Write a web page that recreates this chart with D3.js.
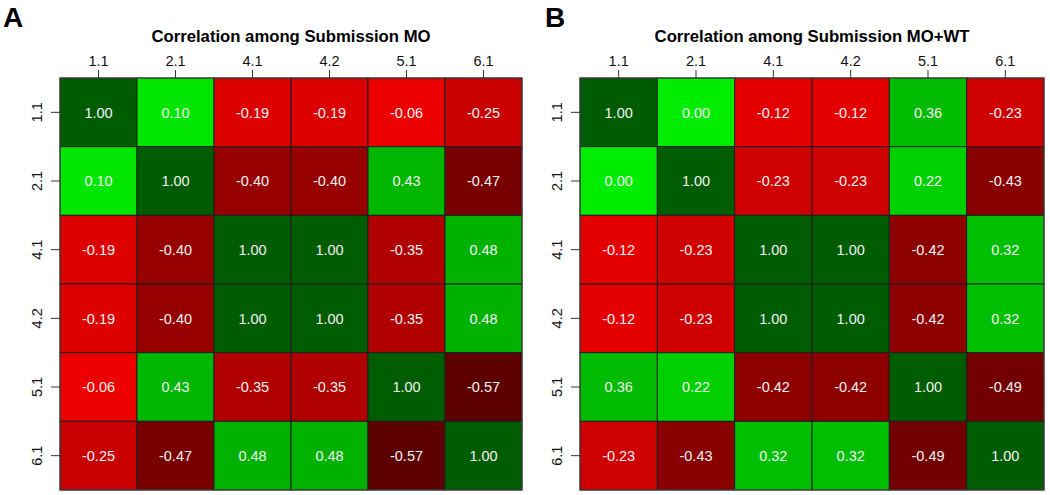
<!DOCTYPE html>
<html><head><meta charset="utf-8">
<script src="https://cdn.jsdelivr.net/npm/d3@7"></script>
<style>
html,body{margin:0;padding:0;background:#fff;}
svg{display:block;font-family:"Liberation Sans",Arial,Helvetica,sans-serif;}
</style></head>
<body>
<svg id="chart" width="1050" height="495"></svg>
<script>
const labels = ["1.1","2.1","4.1","4.2","5.1","6.1"];
const panelLetters = ["A","B"];
const titles = ["Correlation among Submission MO","Correlation among Submission MO+WT"];
const corrMO = [
  [ 1.00, 0.10,-0.19,-0.19,-0.06,-0.25],
  [ 0.10, 1.00,-0.40,-0.40, 0.43,-0.47],
  [-0.19,-0.40, 1.00, 1.00,-0.35, 0.48],
  [-0.19,-0.40, 1.00, 1.00,-0.35, 0.48],
  [-0.06, 0.43,-0.35,-0.35, 1.00,-0.57],
  [-0.25,-0.47, 0.48, 0.48,-0.57, 1.00]
];
const corrMOWT = [
  [ 1.00, 0.00,-0.12,-0.12, 0.36,-0.23],
  [ 0.00, 1.00,-0.23,-0.23, 0.22,-0.43],
  [-0.12,-0.23, 1.00, 1.00,-0.42, 0.32],
  [-0.12,-0.23, 1.00, 1.00,-0.42, 0.32],
  [ 0.36, 0.22,-0.42,-0.42, 1.00,-0.49],
  [-0.23,-0.43, 0.32, 0.32,-0.49, 1.00]
];
const matrices = [corrMO, corrMOWT];

const color = d3.scaleLinear()
  .domain([-0.6,-0.47,-0.40,-0.35,-0.25,-0.19,-0.06,0,0.1,0.3,0.5,1])
  .range(["#550000","#780000","#960000","#b00000","#c80000","#dc0000","#ec0000","#00ec00","#00e600","#00c000","#00b000","#005c00"])
  .clamp(true);

const svg = d3.select("#chart");
const panels = [
  {x0:60, x1:522, y0:78, y1:490, letterX:3},
  {x0:580, x1:1044, y0:78, y1:490, letterX:545}
];

panels.forEach((p,pi)=>{
  const m = matrices[pi];
  const x = d3.scaleBand().domain(labels).range([p.x0,p.x1]);
  const y = d3.scaleBand().domain(labels).range([p.y0,p.y1]);
  const g = svg.append("g");
  const cells = [];
  m.forEach((row,i)=>row.forEach((v,j)=>cells.push({r:labels[i],c:labels[j],v})));
  g.selectAll("rect.cell").data(cells).join("rect")
    .attr("class","cell")
    .attr("x",d=>x(d.c)).attr("y",d=>y(d.r))
    .attr("width",x.bandwidth()).attr("height",y.bandwidth())
    .attr("fill",d=>color(d.v))
    .attr("stroke","#1e1e1e").attr("stroke-width",1);
  g.selectAll("text.val").data(cells).join("text")
    .attr("class","val")
    .attr("x",d=>x(d.c)+x.bandwidth()/2)
    .attr("y",d=>y(d.r)+y.bandwidth()/2)
    .attr("dy","0.36em")
    .attr("text-anchor","middle")
    .attr("fill","#f2f2f2")
    .attr("font-size","14.5px")
    .text(d=>d.v.toFixed(2));
  g.append("rect").attr("x",p.x0).attr("y",p.y0)
    .attr("width",p.x1-p.x0).attr("height",p.y1-p.y0)
    .attr("fill","none").attr("stroke","#444").attr("stroke-width",1);

  const top = svg.append("g").attr("transform",`translate(0,${p.y0})`)
    .call(d3.axisTop(x).tickSize(8).tickPadding(4));
  top.select(".domain").remove();
  top.selectAll("text").attr("font-size","14.5px").attr("fill","#111")
    .attr("font-family",null);
  top.selectAll("line").attr("stroke","#333");

  const left = svg.append("g").attr("transform",`translate(${p.x0},0)`)
    .call(d3.axisLeft(y).tickSize(9).tickPadding(4));
  left.select(".domain").remove();
  left.selectAll("line").attr("stroke","#333");
  left.selectAll("text").attr("font-size","14.5px").attr("fill","#111")
    .attr("font-family",null)
    .attr("transform","rotate(-90)")
    .attr("x",0).attr("y",-18).attr("dy","0")
    .attr("text-anchor","middle");

  svg.append("text").attr("x",(p.x0+p.x1)/2).attr("y",42)
    .attr("text-anchor","middle").attr("font-weight","bold")
    .attr("font-size","16.7px").attr("fill","#000")
    .text(titles[pi]);
  svg.append("text").attr("x",p.letterX).attr("y",27)
    .attr("font-weight","bold").attr("font-size","28px").attr("fill","#000")
    .text(panelLetters[pi]);
});
</script>
</body></html>
